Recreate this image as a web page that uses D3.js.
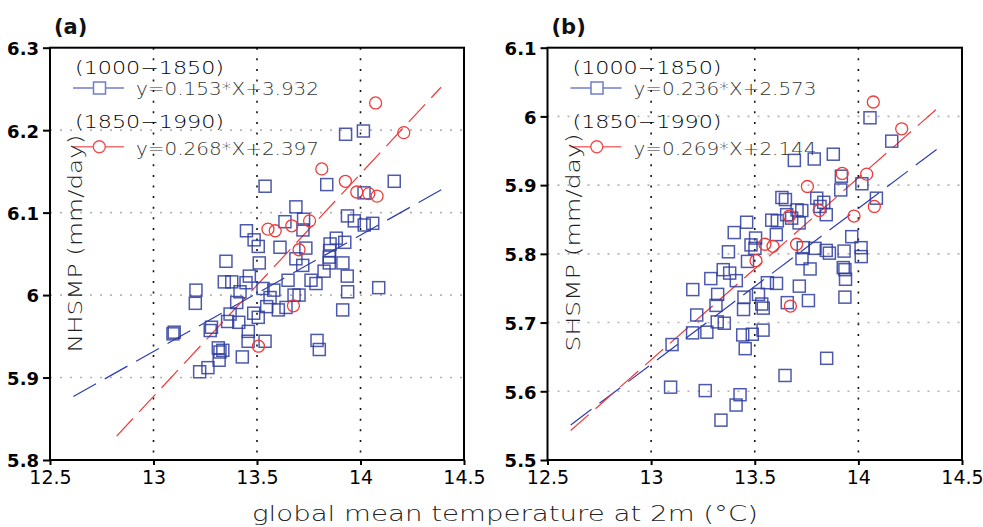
<!DOCTYPE html>
<html>
<head>
<meta charset="utf-8">
<script src="https://cdn.jsdelivr.net/npm/d3@7"></script>
<style>
  body { margin: 0; background: #fff; }
  svg text { font-family: "DejaVu Sans", sans-serif; }
  .thin { font-weight: 200; }
</style>
</head>
<body>
<svg id="chart" width="983" height="527"></svg>
<script>
const xTicks = [12.5, 13, 13.5, 14, 14.5];
const yTicksNH = [5.8, 5.9, 6.0, 6.1, 6.2, 6.3];
const yTicksSH = [5.5, 5.6, 5.7, 5.8, 5.9, 6.0, 6.1];

const periods = ['(1000\u22121850)', '(1850\u22121990)'];
const eqNH = ['y=0.153*X+3.932', 'y=0.268*X+2.397'];
const eqSH = ['y=0.236*X+2.573', 'y=0.269*X+2.144'];

// 1000-1850 (squares), NH panel
const nhPre = [
  [13.928,6.195],[14.014,6.199],[13.539,6.132],[13.837,6.134],[14.163,6.138],[14.017,6.124],
  [13.688,6.107],[13.635,6.089],[13.725,6.092],[13.722,6.079],[13.937,6.096],[13.970,6.090],
  [14.018,6.085],[14.059,6.087],[13.449,6.078],[13.486,6.067],[13.506,6.059],[13.611,6.058],
  [13.736,6.057],[13.688,6.044],[13.721,6.036],[13.511,6.039],[13.350,6.041],[13.883,6.069],
  [13.853,6.062],[13.924,6.064],[13.851,6.054],[13.849,6.046],[13.849,6.039],[13.915,6.039],
  [13.824,6.029],[13.936,6.023],[13.938,6.004],[14.088,6.009],[13.761,6.018],[13.785,6.014],
  [13.650,6.018],[13.581,6.006],[13.463,6.023],[13.447,6.015],[13.529,6.008],[13.703,6.000],
  [13.679,6.000],[13.640,5.985],[13.603,5.982],[13.342,6.016],[13.378,6.016],[13.418,6.004],
  [13.563,5.997],[13.205,6.006],[13.202,5.990],[13.402,5.991],[13.547,5.986],[13.370,5.977],
  [13.358,5.968],[13.412,5.967],[13.484,5.978],[13.506,5.973],[13.280,5.961],[13.274,5.957],
  [13.100,5.955],[13.094,5.953],[13.458,5.956],[13.457,5.944],[13.539,5.944],[13.313,5.936],
  [13.335,5.933],[13.321,5.931],[13.317,5.921],[13.429,5.925],[13.263,5.912],[13.223,5.907],
  [13.914,5.982],[13.790,5.945],[13.801,5.934]
];
// 1850-1990 (circles), NH panel
const nhPost = [
  [14.073,6.233],[14.209,6.197],[13.813,6.153],[13.927,6.138],[13.982,6.125],[14.040,6.123],
  [14.080,6.120],[13.553,6.080],[13.588,6.078],[13.668,6.084],[13.754,6.090],[13.703,6.055],
  [13.676,5.987],[13.507,5.938]
];
// 1000-1850 (squares), SH panel
const shPre = [
  [14.056,5.998],[14.161,5.964],[13.879,5.945],[13.787,5.938],[13.691,5.936],[13.918,5.913],
  [13.915,5.893],[14.017,5.902],[14.087,5.881],[13.799,5.881],[13.833,5.875],[13.815,5.869],
  [13.845,5.857],[13.631,5.882],[13.648,5.879],[13.704,5.864],[13.727,5.863],[13.654,5.857],
  [13.678,5.852],[13.714,5.845],[13.582,5.849],[13.609,5.848],[13.461,5.846],[13.604,5.828],
  [13.401,5.831],[13.504,5.823],[13.482,5.813],[13.501,5.808],[13.465,5.789],[13.968,5.825],
  [14.013,5.809],[14.014,5.796],[13.734,5.809],[13.728,5.793],[13.791,5.808],[13.845,5.805],
  [13.860,5.801],[13.931,5.804],[13.767,5.778],[13.927,5.780],[13.935,5.777],[13.938,5.763],
  [13.715,5.753],[13.605,5.757],[13.561,5.758],[13.759,5.732],[13.935,5.737],[13.518,5.741],
  [13.448,5.737],[13.534,5.727],[13.541,5.721],[13.446,5.719],[13.657,5.729],[13.373,5.803],
  [13.348,5.777],[13.379,5.772],[13.411,5.761],[13.288,5.764],[13.201,5.748],[13.321,5.741],
  [13.313,5.725],[13.220,5.711],[13.319,5.701],[13.353,5.699],[13.269,5.686],[13.200,5.685],
  [13.101,5.668],[13.442,5.682],[13.488,5.683],[13.540,5.689],[13.454,5.662],[13.646,5.623],
  [13.847,5.648],[13.094,5.606],[13.261,5.601],[13.429,5.595],[13.410,5.580],[13.337,5.558]
];
// 1850-1990 (circles), SH panel
const shPost = [
  [14.072,6.021],[14.209,5.982],[13.922,5.917],[14.040,5.916],[13.754,5.898],[14.077,5.869],
  [13.979,5.855],[13.811,5.863],[13.667,5.855],[13.702,5.814],[13.549,5.814],[13.588,5.811],
  [13.506,5.790],[13.672,5.724]
];

// fitted lines as drawn (end points)
const fitNHPre = [[12.613,5.877],[14.392,6.128]];
const fitNHPost = [[12.822,5.829],[14.389,6.252]];
const fitSHPre = [[12.612,5.551],[14.391,5.955]];
const fitSHPost = [[12.612,5.543],[14.375,6.010]];

const svg = d3.select('#chart');
svg.append('rect').attr('width', 983).attr('height', 527).attr('fill', '#fff');

const TOP = 47.7, BOTTOM = 460;
const BLUE = '#2e3c9e', RED = '#ef3b3b';

const fmt = d => String(+d.toFixed(1));

function drawPanel(p) {
  const x = d3.scaleLinear().domain([12.5, 14.5]).range([p.left, p.right]);
  const y = d3.scaleLinear().domain(p.yDomain).range([BOTTOM, TOP]);
  const g = svg.append('g');

  // grid
  g.selectAll('line.hgrid')
    .data(p.yTicks.slice(1, -1))
    .join('line')
    .attr('class', 'hgrid')
    .attr('x1', p.left).attr('x2', p.right)
    .attr('y1', d => y(d)).attr('y2', d => y(d))
    .attr('stroke', '#b4b4b4').attr('stroke-width', 1.6)
    .attr('stroke-dasharray', '2,8');

  g.selectAll('line.vgrid')
    .data(xTicks.slice(1, -1))
    .join('line')
    .attr('class', 'vgrid')
    .attr('x1', d => x(d)).attr('x2', d => x(d))
    .attr('y1', TOP).attr('y2', BOTTOM)
    .attr('stroke', '#111').attr('stroke-width', 1.6)
    .attr('stroke-dasharray', '2,8.6');

  // fitted lines
  const line = d3.line().x(d => x(d[0])).y(d => y(d[1]));
  g.append('path').attr('d', line(p.fitPre))
    .attr('fill', 'none').attr('stroke', '#2c3db4').attr('stroke-width', 1.2)
    .attr('stroke-dasharray', '26,10');
  g.append('path').attr('d', line(p.fitPost))
    .attr('fill', 'none').attr('stroke', '#f03a3a').attr('stroke-width', 1.2)
    .attr('stroke-dasharray', '24,9');

  // points
  g.selectAll('rect.pre')
    .data(p.pre)
    .join('rect')
    .attr('class', 'pre')
    .attr('x', d => x(d[0]) - 6).attr('y', d => y(d[1]) - 6)
    .attr('width', 12).attr('height', 12)
    .attr('fill', 'none').attr('stroke', BLUE).attr('stroke-width', 1.5)
    .attr('stroke-opacity', 0.85);

  g.selectAll('circle.post')
    .data(p.post)
    .join('circle')
    .attr('class', 'post')
    .attr('cx', d => x(d[0])).attr('cy', d => y(d[1]))
    .attr('r', 6)
    .attr('fill', 'none').attr('stroke', RED).attr('stroke-width', 1.3);

  // legend
  const L = p.left;
  const leg = g.append('g').attr('class', 'thin');
  leg.append('text').attr('x', L + 25).attr('y', 73.5).attr('font-size', 18)
    .attr('fill', '#000').attr('textLength', 149).attr('lengthAdjust', 'spacingAndGlyphs')
    .text(periods[0]);
  leg.append('line').attr('x1', L + 23).attr('x2', L + 74).attr('y1', 88).attr('y2', 88)
    .attr('stroke', '#6f7cc8').attr('stroke-width', 1.5);
  leg.append('rect').attr('x', L + 49.5 - 6).attr('y', 88 - 6).attr('width', 12).attr('height', 12)
    .attr('fill', '#fff').attr('stroke', '#6f7cc8').attr('stroke-width', 1.5);
  leg.append('text').attr('x', L + 86).attr('y', 95).attr('font-size', 18)
    .attr('fill', '#333').attr('textLength', 183).attr('lengthAdjust', 'spacingAndGlyphs')
    .text(p.eqs[0]);
  leg.append('text').attr('x', L + 25).attr('y', 127.5).attr('font-size', 18)
    .attr('fill', '#000').attr('textLength', 149).attr('lengthAdjust', 'spacingAndGlyphs')
    .text(periods[1]);
  leg.append('line').attr('x1', L + 23).attr('x2', L + 74).attr('y1', 146.7).attr('y2', 146.7)
    .attr('stroke', '#f07272').attr('stroke-width', 1.5);
  leg.append('circle').attr('cx', L + 49.3).attr('cy', 146.7).attr('r', 6)
    .attr('fill', '#fff').attr('stroke', '#f05050').attr('stroke-width', 1.4);
  leg.append('text').attr('x', L + 86).attr('y', 155).attr('font-size', 18)
    .attr('fill', '#333').attr('textLength', 183).attr('lengthAdjust', 'spacingAndGlyphs')
    .text(p.eqs[1]);

  // frame
  g.append('rect')
    .attr('x', p.left).attr('y', TOP)
    .attr('width', p.right - p.left).attr('height', BOTTOM - TOP)
    .attr('fill', 'none').attr('stroke', '#000').attr('stroke-width', 2);

  // axes
  const ya = g.append('g')
    .attr('transform', `translate(${p.left},0)`)
    .call(d3.axisLeft(y).tickValues(p.yTicks).tickFormat(fmt).tickSize(7).tickPadding(4));
  ya.select('.domain').remove();
  ya.selectAll('.tick line').attr('stroke', '#000').attr('stroke-width', 2);
  ya.selectAll('.tick text')
    .attr('font-family', '"Liberation Sans", Arial, sans-serif')
    .attr('font-weight', 'bold').attr('font-size', 18)
    .attr('fill', '#000').attr('dy', '0.38em');

  const xa = g.append('g')
    .attr('transform', `translate(0,${BOTTOM})`)
    .call(d3.axisBottom(x).tickValues(xTicks).tickFormat(d => String(d)).tickSize(5).tickPadding(6));
  xa.select('.domain').remove();
  xa.selectAll('.tick line').attr('stroke', '#000').attr('stroke-width', 2);
  xa.selectAll('.tick text')
    .attr('font-family', '"Liberation Sans", Arial, sans-serif')
    .attr('font-size', 19).attr('fill', '#000');

  // y title
  g.append('text')
    .attr('class', 'thin')
    .attr('transform', `translate(${p.titleX},${p.titleY}) rotate(-90)`)
    .attr('text-anchor', 'middle')
    .attr('font-size', 20).attr('fill', '#222')
    .attr('textLength', 218).attr('lengthAdjust', 'spacingAndGlyphs')
    .text(p.yTitle);

  // panel tag
  g.append('text')
    .attr('x', p.left + 4).attr('y', 34)
    .attr('font-family', '"Liberation Sans", Arial, sans-serif')
    .attr('font-weight', 'bold').attr('font-size', 21).attr('fill', '#111')
    .text(p.tag);
}

drawPanel({
  left: 50, right: 464, yDomain: [5.8, 6.3], yTicks: yTicksNH,
  pre: nhPre, post: nhPost, fitPre: fitNHPre, fitPost: fitNHPost,
  eqs: eqNH, tag: '(a)', yTitle: 'NHSMP (mm/day)', titleX: 82, titleY: 243.5
});

drawPanel({
  left: 547.5, right: 962, yDomain: [5.5, 6.1], yTicks: yTicksSH,
  pre: shPre, post: shPost, fitPre: fitSHPre, fitPost: fitSHPost,
  eqs: eqSH, tag: '(b)', yTitle: 'SHSMP (mm/day)', titleX: 580, titleY: 242.5
});

svg.append('text')
  .attr('class', 'thin')
  .attr('x', 505).attr('y', 521)
  .attr('text-anchor', 'middle')
  .attr('font-size', 22).attr('fill', '#222')
  .attr('textLength', 506).attr('lengthAdjust', 'spacingAndGlyphs')
  .text('global mean temperature at 2m (\u00B0C)');
</script>
</body>
</html>
